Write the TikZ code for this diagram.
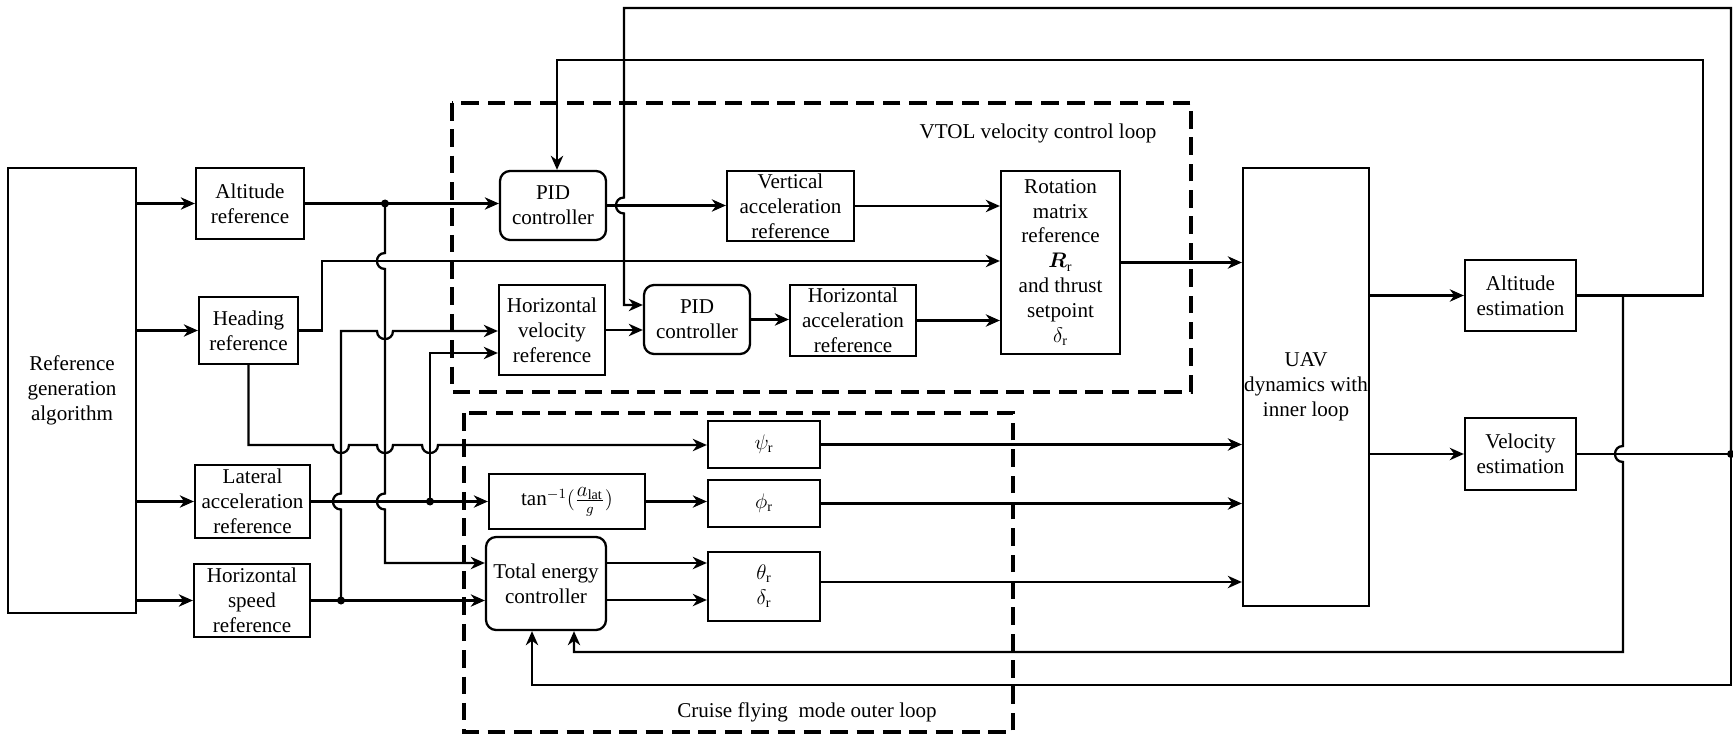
\documentclass[tikz,border=0pt]{standalone}
\usepackage{amsmath}
\usepackage{fontspec}
\setmainfont{Liberation Serif}
\usetikzlibrary{arrows.meta,calc}
\begin{document}
\begin{tikzpicture}[x=0.02cm,y=-0.02cm,
  every node/.style={font=\fontsize{12}{14.2}\selectfont},
  blk/.style={draw,line width=1.3pt,align=center,inner sep=0pt},
  rblk/.style={blk,rounded corners=0.2cm},
  ln/.style={line width=1.3pt},
  arr/.style={ln,-{Stealth[length=8pt,width=7pt,inset=2.5pt]}},
  loopbox/.style={line width=2pt,dash pattern=on 10pt off 5pt},
  jdot/.style={circle,fill,inner sep=0pt,minimum size=0.16cm}]
\useasboundingbox[fill=white] (0,0) rectangle (1733,736);

% blocks
\node[blk,minimum width=2.56cm,minimum height=8.9cm] (refgen) at (72,390.5) {Reference\\generation\\algorithm};
\node[blk,minimum width=2.16cm,minimum height=1.42cm] (alt) at (250,203.5) {Altitude\\reference};
\node[blk,minimum width=1.98cm,minimum height=1.34cm] (head) at (248.5,330.5) {Heading\\reference};
\node[blk,minimum width=2.3cm,minimum height=1.46cm] (lat) at (252.5,501.5) {Lateral\\acceleration\\reference};
\node[blk,minimum width=2.32cm,minimum height=1.46cm] (hspd) at (252,600.5) {Horizontal\\speed\\reference};

\node[rblk,minimum width=2.12cm,minimum height=1.38cm] (pid1) at (553,205.5) {PID\\controller};
\node[blk,minimum width=2.54cm,minimum height=1.4cm] (vacc) at (790.5,206) {Vertical\\acceleration\\reference};
\node[blk,minimum width=2.38cm,minimum height=3.66cm] (rot) at (1060.5,262.5) {Rotation\\matrix\\reference\\$\boldsymbol{R}_{\mathrm{r}}$\\and thrust\\setpoint\\$\delta_{\mathrm{r}}$};
\node[blk,minimum width=2.12cm,minimum height=1.8cm] (hvel) at (552,330) {Horizontal\\velocity\\reference};
\node[rblk,minimum width=2.12cm,minimum height=1.38cm] (pid2) at (697,319.5) {PID\\controller};
\node[blk,minimum width=2.52cm,minimum height=1.42cm] (hacc) at (853,320.5) {Horizontal\\acceleration\\reference};

\node[blk,minimum width=2.24cm,minimum height=0.94cm] (psi) at (764,444.5) {$\psi_{\mathrm{r}}$};
\node[blk,minimum width=3.12cm,minimum height=1.1cm] (tan) at (567,501.5) {$\tan^{-1}(\frac{\textstyle a_{\mathrm{lat}}}{g})$};
\node[blk,minimum width=2.24cm,minimum height=0.94cm] (phi) at (764,503.5) {$\phi_{\mathrm{r}}$};
\node[rblk,minimum width=2.4cm,minimum height=1.86cm] (tec) at (546,583.5) {Total energy\\controller};
\node[blk,minimum width=2.24cm,minimum height=1.38cm] (theta) at (764,586.5) {$\theta_{\mathrm{r}}$\\$\delta_{\mathrm{r}}$};

\node[blk,minimum width=2.52cm,minimum height=8.76cm] (uav) at (1306,387) {UAV\\dynamics with\\inner loop};
\node[blk,minimum width=2.22cm,minimum height=1.42cm] (altest) at (1520.5,295.5) {Altitude\\estimation};
\node[blk,minimum width=2.22cm,minimum height=1.44cm] (velest) at (1520.5,454) {Velocity\\estimation};

% loop frames
\draw[loopbox] (452,103) rectangle (1191,392);
\draw[loopbox] (464,413) rectangle (1013,732);
\node (vtoll) at (1038,133) {VTOL velocity control loop};
\node (cruisel) at (807,712) {Cruise flying\ \ mode outer loop};

% junctions
\coordinate (d1) at (385,203.5);
\coordinate (d2) at (341,600.5);
\coordinate (d3) at (430,501.5);
\coordinate (d4) at (1731,454);
\coordinate (j1) at (1623,295.5);
\coordinate (fbA) at (557,60);

% reference generator outputs
\draw[arr] (alt.west -| refgen.east) -- (alt.west);
\draw[arr] (head.west -| refgen.east) -- (head.west);
\draw[arr] (lat.west -| refgen.east) -- (lat.west);
\draw[arr] (hspd.west -| refgen.east) -- (hspd.west);

% altitude reference
\draw[arr] (alt.east) -- (alt.east -| pid1.west);
\draw[arr] (d1) -- (385,253) .. controls +(-10.7,0) and +(-10.7,0) .. (385,269) -- (385,493.5) .. controls +(-10.7,0) and +(-10.7,0) .. (385,509.5) -- (385,563) -- (tec.west |- 0,563);

% heading reference
\draw[arr] (head.east) -| (322,261) -- (rot.west |- 0,261);
\draw[arr] (head.south) |- (333,445) .. controls +(0,10.7) and +(0,10.7) .. (349,445) -- (377,445) .. controls +(0,10.7) and +(0,10.7) .. (393,445) -- (422,445) .. controls +(0,10.7) and +(0,10.7) .. (438,445) -- (psi.west |- 0,445);

% lateral acceleration
\draw[arr] (lat.east) -- (tan.west);
\draw[arr] (d3) -- (430,353) -- (hvel.west |- 0,353);

% horizontal speed
\draw[arr] (hspd.east) -- (hspd.east -| tec.west);
\draw[arr] (d2) -- (341,509.5) .. controls +(-10.7,0) and +(-10.7,0) .. (341,493.5) -- (341,331) -- (377,331) .. controls +(0,10.7) and +(0,10.7) .. (393,331) -- (hvel.west |- 0,331);

% VTOL loop
\draw[arr] (pid1.east) -- (pid1.east -| vacc.west);
\draw[arr] (vacc.east) -- (vacc.east -| rot.west);
\draw[arr] (hvel.east) -- (hvel.east -| pid2.west);
\draw[arr] (pid2.east) -- (pid2.east -| hacc.west);
\draw[arr] (hacc.east) -- (hacc.east -| rot.west);
\draw[arr] (rot.east) -- (rot.east -| uav.west);

% cruise loop
\draw[arr] (psi.east) -- (psi.east -| uav.west);
\draw[arr] (tan.east) -- (tan.east -| phi.west);
\draw[arr] (phi.east) -- (phi.east -| uav.west);
\draw[arr] (tec.east |- 0,563) -- (theta.west |- 0,563);
\draw[arr] (tec.east |- 0,600) -- (theta.west |- 0,600);
\draw[arr] (theta.east |- 0,582) -- (uav.west |- 0,582);

% UAV outputs
\draw[arr] (uav.east |- altest.west) -- (altest.west);
\draw[arr] (uav.east |- velest.west) -- (velest.west);

% feedback
\draw[arr] (altest.east) -- (1703,295.5) -- (1703,60) -- (fbA) -- (fbA |- pid1.north);
\draw[arr] (j1) -- (1623,446) .. controls +(-10.7,0) and +(-10.7,0) .. (1623,462) -- (1623,652) -- (574,652) -- (574,652 |- tec.south);
\draw[ln] (velest.east) -- (d4);
\draw[arr] (d4) -- (1731,8) -- (624,8) -- (624,197.5) .. controls +(-10.7,0) and +(-10.7,0) .. (624,213.5) -- (624,305) -- (pid2.west |- 0,305);
\draw[arr] (d4) -- (1731,685) -- (532,685) -- (532,685 |- tec.south);

% dots
\node[jdot] (dot1) at (d1) {};
\node[jdot] (dot2) at (d2) {};
\node[jdot] (dot3) at (d3) {};
\node[jdot] (dot4) at (d4) {};
\end{tikzpicture}
\end{document}
